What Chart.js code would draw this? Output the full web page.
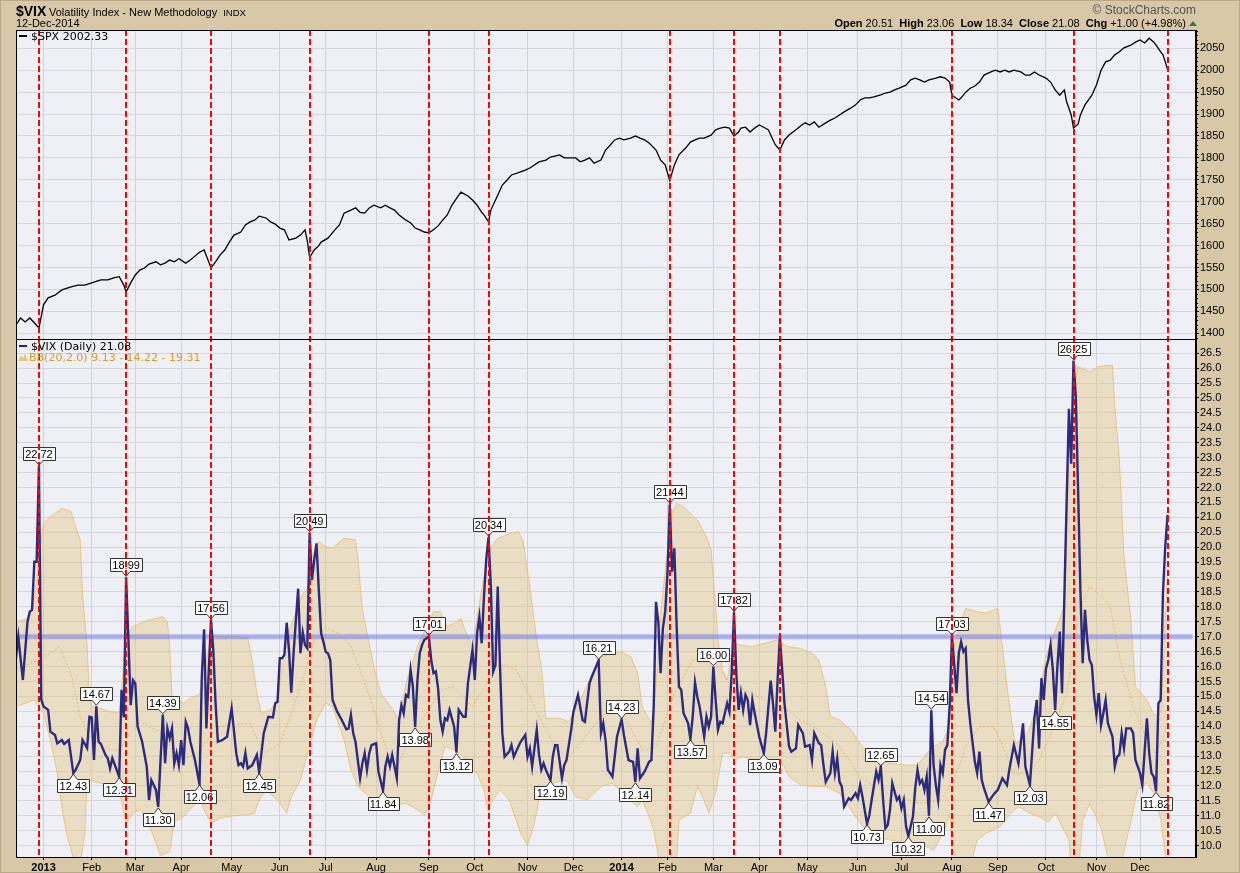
<!DOCTYPE html>
<html lang="en">
<head>
<meta charset="UTF-8">
<title>$VIX Volatility Index - New Methodology</title>
<style>
  html, body { margin: 0; padding: 0; background: #d8c8a8; }
  #wrap { width: 1240px; height: 873px; }
</style>
</head>
<body>
<div id="wrap"><canvas id="chart" width="1240" height="873"></canvas></div>
<script src="https://cdn.jsdelivr.net/npm/chart.js"></script>
<script>
// x = trading day counted from the first bar on the chart (early Dec 2012)
const monthDays   = [12, 33, 52, 72, 94, 115, 135, 157, 180, 200, 223, 243, 264, 284, 304, 324, 345, 367, 386, 408, 428, 449, 471, 490];
const monthLabels = ['2013','Feb','Mar','Apr','May','Jun','Jul','Aug','Sep','Oct','Nov','Dec',
                     '2014','Feb','Mar','Apr','May','Jun','Jul','Aug','Sep','Oct','Nov','Dec'];
const spxTicks = [1400,1450,1500,1550,1600,1650,1700,1750,1800,1850,1900,1950,2000,2050];
const vixTicks = [10,10.5,11,11.5,12,12.5,13,13.5,14,14.5,15,15.5,16,16.5,17,17.5,18,18.5,19,19.5,20,20.5,21,21.5,22,22.5,23,23.5,24,24.5,25,25.5,26,26.5];

// $SPX close [day, value]
const spxSeries = [[0,1419],[2,1435],[4,1426],[6,1435],[8,1424],[10,1412],[12,1465],[14,1481],[17,1487],[20,1499],[24,1506],[27,1510],[30,1510],[33,1515],[37,1522],[40,1522],[43,1527],[45,1529],[47,1510],[48,1494],[50,1515],[52,1533],[54,1544],[56,1549],[58,1558],[61,1563],[63,1556],[65,1560],[67,1567],[69,1563],[71,1570],[74,1560],[76,1567],[78,1576],[80,1585],[82,1590],[84,1563],[85,1549],[87,1563],[89,1579],[91,1590],[93,1608],[95,1624],[98,1631],[100,1647],[102,1654],[104,1658],[106,1667],[109,1663],[111,1654],[113,1649],[115,1640],[117,1636],[119,1613],[122,1617],[124,1624],[126,1636],[127,1610],[128,1573],[130,1590],[132,1600],[133,1608],[136,1617],[139,1636],[141,1647],[143,1674],[146,1681],[148,1686],[150,1676],[152,1674],[154,1686],[156,1692],[159,1686],[161,1692],[163,1686],[165,1681],[167,1670],[170,1658],[172,1652],[174,1640],[176,1636],[178,1631],[180,1629],[182,1636],[184,1645],[186,1658],[188,1670],[190,1692],[193,1715],[194,1722],[197,1713],[199,1704],[201,1692],[203,1676],[204,1670],[206,1654],[207,1681],[210,1715],[212,1738],[214,1749],[216,1761],[220,1768],[222,1772],[224,1777],[228,1791],[231,1795],[233,1802],[237,1807],[239,1800],[241,1800],[244,1800],[246,1791],[248,1795],[250,1800],[252,1788],[255,1795],[257,1818],[259,1829],[261,1841],[263,1845],[265,1841],[268,1845],[270,1850],[272,1845],[274,1841],[276,1834],[279,1818],[281,1795],[283,1784],[285,1748],[287,1784],[289,1807],[292,1823],[294,1836],[296,1841],[298,1845],[300,1845],[303,1852],[305,1864],[307,1868],[309,1870],[311,1868],[313,1850],[315,1859],[316,1868],[318,1870],[320,1859],[322,1868],[324,1875],[326,1870],[328,1864],[330,1841],[331,1830],[333,1818],[335,1841],[337,1852],[340,1864],[342,1873],[344,1880],[346,1875],[348,1882],[350,1870],[353,1880],[355,1886],[357,1891],[359,1898],[361,1905],[364,1914],[366,1921],[368,1932],[370,1937],[372,1937],[374,1939],[377,1944],[379,1948],[381,1950],[383,1955],[385,1959],[388,1966],[390,1978],[392,1982],[394,1978],[396,1973],[398,1978],[401,1982],[403,1985],[405,1982],[407,1973],[408,1943],[411,1932],[412,1937],[414,1950],[416,1959],[418,1964],[420,1973],[422,1989],[425,1996],[427,2000],[429,1996],[431,2000],[433,1996],[435,2000],[438,1996],[440,1989],[442,1989],[444,1996],[446,1989],[449,1982],[451,1973],[453,1955],[455,1943],[457,1955],[458,1928],[460,1898],[461,1868],[463,1877],[464,1898],[466,1921],[469,1943],[471,1966],[473,2000],[475,2019],[477,2023],[479,2035],[481,2042],[483,2051],[486,2057],[488,2064],[490,2069],[492,2062],[494,2073],[496,2064],[497,2057],[499,2042],[500,2035],[501,2019],[502,2002.33]];

// $VIX close [day, value]
const vixSeries = [[0,16.3],[1,17.0],[3,15.55],[5,17.5],[6,17.84],[7,17.9],[8,19.51],[9,19.51],[10,22.72],[11,14.9],[12,14.66],[14,14.55],[15,13.82],[17,13.71],[18,13.43],[20,13.54],[21,13.41],[23,13.54],[25,12.43],[26,12.54],[28,12.87],[29,13.54],[31,13.27],[32,14.32],[33,14.3],[34,12.87],[35,14.67],[36,13.48],[37,13.41],[39,13.04],[40,12.93],[41,12.59],[42,12.93],[45,12.31],[46,15.22],[47,14.3],[48,18.99],[49,16.89],[50,14.71],[51,15.55],[52,15.44],[53,14.0],[55,13.48],[57,12.65],[58,11.53],[59,12.2],[61,11.87],[62,11.30],[64,14.39],[65,12.76],[66,13.93],[67,13.6],[68,13.93],[69,12.76],[70,13.1],[71,12.7],[72,13.54],[73,12.7],[74,14.15],[75,13.93],[76,13.48],[78,12.87],[80,12.06],[81,15.66],[82,17.25],[83,13.93],[84,15.78],[85,17.56],[86,16.56],[87,14.77],[88,13.48],[90,13.54],[92,13.65],[94,14.6],[96,13.1],[97,12.7],[98,12.76],[99,12.65],[100,13.1],[101,12.59],[103,12.7],[105,13.04],[106,12.45],[108,13.77],[109,14.04],[110,14.32],[112,14.3],[113,14.77],[114,14.82],[115,16.28],[116,16.28],[117,16.39],[118,17.47],[119,16.56],[120,15.13],[121,16.45],[123,18.61],[124,16.45],[125,17.14],[126,16.72],[127,16.61],[128,20.49],[129,18.9],[130,19.57],[131,20.13],[132,18.57],[133,17.12],[134,16.83],[135,16.5],[136,16.45],[137,16.22],[138,14.88],[140,14.49],[142,14.21],[144,13.9],[145,13.93],[146,14.38],[147,13.77],[148,13.48],[150,12.26],[151,12.76],[152,13.1],[153,12.54],[154,13.1],[155,13.37],[157,13.43],[158,12.48],[160,11.84],[161,12.65],[162,12.98],[163,12.67],[164,13.04],[165,12.65],[166,12.26],[167,14.21],[168,14.71],[169,14.44],[170,15.05],[171,14.99],[172,15.89],[173,15.33],[174,13.98],[175,15.55],[176,16.45],[177,16.72],[178,16.9],[179,16.95],[180,17.01],[181,16.22],[182,15.78],[183,15.84],[184,15.27],[185,14.21],[186,13.82],[187,14.27],[188,14.21],[189,14.55],[191,13.99],[192,13.12],[193,14.55],[195,14.32],[196,14.32],[197,15.44],[199,16.56],[200,15.55],[201,17.12],[202,17.67],[203,16.78],[204,18.34],[205,19.6],[206,20.34],[207,18.68],[208,15.83],[209,16.05],[210,18.68],[211,16.0],[212,13.77],[213,12.98],[215,13.15],[216,13.37],[217,12.98],[219,13.32],[220,13.48],[222,13.71],[223,12.98],[224,13.26],[225,12.65],[227,13.88],[228,13.04],[229,12.54],[230,12.76],[231,12.54],[233,12.19],[234,12.98],[235,13.37],[236,13.37],[238,12.26],[239,12.7],[240,12.87],[242,13.88],[243,14.49],[244,14.77],[245,15.05],[247,14.21],[248,14.15],[250,15.44],[251,15.66],[254,16.21],[255,13.77],[256,14.1],[257,13.54],[258,12.54],[260,12.31],[262,13.65],[264,14.23],[265,13.71],[267,12.87],[269,12.81],[270,12.14],[271,13.26],[272,12.26],[274,12.48],[276,12.81],[277,12.87],[278,14.66],[279,18.17],[280,17.5],[281,15.78],[282,17.28],[283,17.84],[284,19.13],[285,21.44],[286,19.18],[287,19.96],[288,17.34],[289,15.33],[290,15.22],[291,14.44],[293,14.1],[294,13.57],[295,14.32],[296,15.47],[297,14.99],[298,14.66],[300,13.65],[301,14.32],[302,13.99],[303,14.32],[304,16.00],[305,14.88],[306,13.88],[307,14.15],[308,14.1],[310,14.77],[311,14.49],[312,15.78],[313,17.82],[314,15.78],[315,14.55],[316,15.11],[317,14.55],[318,15.05],[319,14.88],[320,14.04],[321,14.88],[322,14.44],[324,13.65],[326,13.09],[327,13.77],[328,14.66],[329,15.53],[330,14.77],[331,13.82],[332,15.55],[333,17.0],[334,15.89],[335,14.77],[337,13.32],[338,13.15],[340,13.26],[341,14.04],[343,13.77],[344,13.32],[346,13.37],[347,12.87],[348,13.77],[350,13.43],[351,13.37],[352,12.7],[353,12.14],[355,12.43],[356,13.15],[357,12.43],[358,12.93],[359,12.14],[360,11.98],[361,11.31],[363,11.59],[364,11.53],[366,11.76],[367,11.59],[368,12.03],[369,11.64],[371,10.73],[372,11.03],[373,11.53],[375,12.48],[376,12.2],[377,12.65],[378,11.53],[379,10.58],[380,10.69],[381,11.2],[382,12.09],[384,11.53],[385,11.64],[386,11.25],[387,11.53],[388,10.64],[389,10.32],[391,10.97],[392,11.92],[393,12.54],[394,12.09],[395,12.2],[396,11.87],[397,12.31],[398,11.00],[399,14.54],[400,12.7],[401,12.03],[402,11.53],[403,12.7],[404,12.43],[405,13.21],[406,13.37],[407,14.66],[408,17.03],[410,15.11],[411,16.45],[412,16.83],[413,16.5],[414,16.61],[415,14.88],[416,14.1],[418,12.81],[419,12.43],[420,13.15],[421,12.2],[422,11.92],[424,11.47],[426,11.7],[428,11.87],[430,12.26],[432,12.03],[433,12.54],[435,13.37],[437,12.76],[439,14.1],[440,12.65],[442,12.03],[444,14.32],[445,14.88],[446,13.26],[447,15.61],[448,14.88],[449,15.94],[450,16.22],[451,16.72],[452,15.89],[453,14.55],[454,16.05],[455,17.17],[456,15.11],[457,18.3],[458,21.5],[459,24.64],[460,22.8],[461,26.25],[462,25.04],[463,21.92],[464,18.57],[465,16.11],[466,17.9],[467,16.89],[468,16.22],[469,16.05],[470,14.99],[471,14.38],[472,15.11],[473,14.04],[474,14.44],[475,14.88],[476,14.1],[478,13.65],[479,12.65],[480,12.98],[481,13.04],[482,13.77],[483,13.26],[484,13.93],[486,13.93],[487,13.77],[488,12.87],[490,12.43],[491,12.03],[493,14.27],[494,13.1],[495,12.43],[496,12.31],[497,11.82],[498,14.77],[499,14.88],[500,18.46],[501,20.02],[502,21.08]];

// BB(20,2.0) bands [day, value]
const bbUpperSeries = [[0,17.5],[5,17.6],[8,18.2],[10,19.8],[12,20.81],[15,21.02],[20,21.3],[24,21.19],[26,20.69],[28,20.24],[29,18.46],[31,16.67],[32,14.99],[33,14.66],[37,14.6],[41,14.49],[45,14.44],[48,17.0],[51,17.34],[54,17.45],[58,17.56],[64,17.67],[66,17.5],[67,16.67],[68,14.99],[73,14.77],[77,14.99],[80,15.05],[82,15.78],[85,17.0],[95,17.0],[101,16.95],[103,16.22],[105,15.11],[107,14.44],[111,14.55],[114,14.88],[116,16.0],[119,17.23],[122,17.79],[125,18.46],[127,18.57],[128,19.5],[132,20.18],[135,20.02],[138,19.96],[141,20.18],[143,20.3],[148,20.24],[149,19.68],[151,17.9],[156,16.0],[159,15.11],[164,14.6],[167,14.21],[170,15.44],[175,16.67],[179,17.34],[182,17.84],[185,17.84],[188,17.34],[191,17.45],[194,17.62],[196,17.17],[199,16.67],[203,18.57],[206,19.9],[210,20.3],[212,20.35],[216,20.47],[219,20.52],[221,20.24],[224,18.68],[227,16.89],[229,16.0],[231,14.27],[237,14.27],[241,14.15],[246,14.88],[250,15.55],[255,16.33],[260,16.45],[264,16.5],[268,16.33],[271,15.78],[273,14.66],[277,14.1],[279,15.33],[281,17.79],[284,19.91],[286,21.14],[288,21.47],[291,21.36],[297,20.91],[301,20.35],[303,19.91],[305,18.01],[306,16.89],[308,15.89],[310,15.55],[313,16.78],[316,16.72],[321,16.67],[326,16.78],[332,16.89],[336,16.67],[342,16.61],[347,16.45],[350,16.22],[353,15.33],[355,14.32],[359,14.21],[364,13.88],[368,13.43],[371,13.15],[375,12.87],[381,12.76],[387,12.7],[393,12.7],[397,13.1],[400,13.32],[404,13.48],[407,13.99],[408,16.4],[412,17.56],[414,17.95],[419,17.84],[423,17.79],[428,17.95],[429,17.34],[432,15.33],[435,13.65],[436,13.43],[441,13.77],[445,14.6],[449,16.33],[452,17.0],[457,18.01],[459,23.03],[461,25.27],[463,26.05],[468,25.88],[472,26.05],[478,26.1],[479,24.71],[481,22.93],[483,19.68],[486,17.56],[488,15.33],[493,14.88],[496,14.38],[499,14.44],[500,15.9],[501,17.6],[502,19.31]];
const bbLowerSeries = [[0,14.66],[8,14.88],[12,14.44],[15,13.54],[18,12.43],[20,11.31],[22,10.42],[26,9.3],[28,9.4],[30,10.4],[31,12.2],[34,12.14],[41,12.03],[45,11.87],[48,10.75],[51,11.09],[54,11.2],[57,10.86],[60,10.3],[63,9.67],[67,9.8],[69,10.8],[73,10.97],[77,11.31],[80,11.59],[82,11.2],[85,10.75],[89,10.92],[95,11.0],[101,11.03],[104,11.09],[106,11.53],[109,11.87],[114,11.53],[117,11.2],[118,11.09],[120,11.64],[124,12.2],[128,13.32],[131,14.21],[135,14.77],[138,14.66],[140,14.21],[143,13.54],[146,12.54],[149,11.98],[154,11.64],[160,11.42],[164,11.31],[170,11.42],[175,11.2],[178,11.03],[180,11.25],[185,12.76],[187,13.32],[191,13.21],[195,12.98],[198,12.54],[201,12.43],[204,11.87],[206,11.09],[207,11.42],[211,11.87],[215,11.53],[218,10.86],[220,10.42],[223,10.0],[226,10.75],[228,11.53],[233,12.09],[240,12.2],[244,11.64],[249,11.53],[255,11.98],[260,12.09],[266,11.64],[271,11.31],[273,11.53],[276,10.97],[278,10.53],[281,9.2],[285,8.9],[288,9.5],[289,10.86],[294,11.09],[297,11.98],[300,11.53],[302,11.09],[305,11.76],[308,13.1],[311,13.1],[313,12.87],[317,12.98],[323,12.87],[330,12.87],[334,12.76],[337,12.31],[342,12.03],[347,11.98],[353,11.98],[359,11.76],[364,11.2],[368,10.75],[375,10.3],[381,10.19],[388,10.08],[394,10.08],[400,9.84],[405,10.53],[407,11.09],[408,10.0],[411,9.3],[415,9.0],[419,10.19],[423,10.42],[429,10.64],[433,11.03],[437,11.31],[442,11.09],[446,10.97],[450,10.8],[453,11.09],[456,10.64],[459,10.19],[461,8.5],[463,9.0],[465,10.86],[468,11.4],[470,11.1],[473,10.6],[476,9.6],[479,9.0],[482,9.5],[486,10.8],[489,11.9],[493,12.1],[496,11.76],[499,10.9],[500,10.3],[501,9.7],[502,9.13]];
const bbMiddleSeries = [[0,15.89],[12,16.3],[19,16.67],[24,15.78],[28,14.32],[32,13.65],[37,13.37],[41,13.21],[45,13.21],[50,13.77],[54,14.15],[58,13.99],[64,13.77],[69,13.1],[74,12.93],[80,13.15],[85,13.71],[89,13.99],[95,14.04],[102,14.1],[106,13.43],[109,13.1],[115,13.43],[119,14.21],[125,15.55],[130,16.89],[135,17.28],[141,17.12],[146,16.67],[150,15.89],[156,14.55],[162,13.1],[167,12.81],[173,13.77],[179,14.44],[185,15.22],[191,15.33],[195,14.99],[199,14.66],[205,15.44],[211,16.11],[218,15.89],[224,14.99],[230,13.99],[236,13.21],[241,12.98],[247,13.54],[255,14.32],[260,14.55],[266,14.21],[273,13.21],[279,13.32],[287,15.11],[295,16.22],[304,16.22],[310,15.55],[320,15.11],[330,14.77],[336,14.55],[342,14.21],[350,13.88],[359,13.32],[368,12.31],[377,11.87],[385,11.64],[394,11.42],[403,11.53],[409,12.2],[414,13.32],[420,13.99],[426,13.99],[429,13.54],[435,12.43],[441,12.43],[446,12.87],[452,13.88],[458,15.11],[464,18.01],[468,18.68],[472,18.46],[477,18.01],[481,16.33],[487,14.66],[493,13.54],[497,13.1],[501,13.77],[502,14.22]];

const vixLevel = 17.0;
const signalDays = [10, 48, 85, 128, 180, 206, 285, 313, 333, 408, 461, 502];
// labelled turning points: flag above the line for peaks, below it for troughs
const peakDays   = [10, 35, 48, 64, 85, 128, 180, 206, 254, 264, 285, 304, 313, 377, 399, 408, 461];
const troughDays = [25, 45, 62, 80, 106, 160, 174, 192, 233, 270, 294, 326, 371, 389, 398, 424, 442, 453, 497];

const X_MAX = 514.4;
const FONT = '"Liberation Sans", Arial, sans-serif';
const PLOT_BG = '#eff0f6';
const TAN = '#d8c8a8';

const toPts = s => s.map(p => ({ x: p[0], y: p[1] }));
const vixAt = d => { const p = vixSeries.find(q => q[0] === d); return p ? p[1] : null; };

function drawFlag(ctx, x, y, text, up) {
  ctx.font = '11px ' + FONT;
  const w = Math.round(ctx.measureText(text).width) + 4, h = 13;
  const bx = Math.round(x - w / 2) + 0.5;
  const by = up ? Math.round(y) - 6 - h + 0.5 : Math.round(y) + 6 + 0.5;
  ctx.beginPath();
  if (up) {
    ctx.moveTo(bx, by); ctx.lineTo(bx + w, by); ctx.lineTo(bx + w, by + h);
    ctx.lineTo(x + 4, by + h); ctx.lineTo(x, y - 1); ctx.lineTo(x - 4, by + h);
    ctx.lineTo(bx, by + h); ctx.closePath();
  } else {
    ctx.moveTo(bx, by); ctx.lineTo(x - 4, by); ctx.lineTo(x, y + 1); ctx.lineTo(x + 4, by);
    ctx.lineTo(bx + w, by); ctx.lineTo(bx + w, by + h); ctx.lineTo(bx, by + h); ctx.closePath();
  }
  ctx.fillStyle = '#fff'; ctx.fill();
  ctx.strokeStyle = '#333'; ctx.lineWidth = 1; ctx.stroke();
  ctx.fillStyle = '#000'; ctx.textAlign = 'center'; ctx.textBaseline = 'middle';
  ctx.fillText(text, x, by + h / 2 + 0.5);
}

const decor = {
  id: 'decor',
  beforeDraw(chart) {
    const { ctx, chartArea: a } = chart;
    ctx.save();
    ctx.fillStyle = TAN; ctx.fillRect(0, 0, chart.width, chart.height);
    ctx.strokeStyle = '#b9a888'; ctx.lineWidth = 1; ctx.strokeRect(0.5, 0.5, chart.width - 1, chart.height - 1);
    ctx.fillStyle = PLOT_BG; ctx.fillRect(a.left, a.top, a.right - a.left, a.bottom - a.top);
    ctx.restore();
  },
  afterDatasetsDraw(chart) {
    const { ctx, chartArea: a, scales } = chart;
    const xs = scales.x, yv = scales.yVix, ys = scales.ySpx;
    ctx.save();
    peakDays.forEach(d => { const v = vixAt(d); drawFlag(ctx, xs.getPixelForValue(d), yv.getPixelForValue(v), v.toFixed(2), true); });
    troughDays.forEach(d => { const v = vixAt(d); drawFlag(ctx, xs.getPixelForValue(d), yv.getPixelForValue(v), v.toFixed(2), false); });
    ctx.strokeStyle = '#ff0000'; ctx.lineWidth = 2; ctx.setLineDash([6, 3]);
    signalDays.forEach(d => {
      const x = Math.round(xs.getPixelForValue(d));
      ctx.beginPath(); ctx.moveTo(x, a.top); ctx.lineTo(x, a.bottom); ctx.stroke();
    });
    ctx.setLineDash([]);
    ctx.strokeStyle = '#000'; ctx.lineWidth = 1;
    const sep = Math.round(ys.bottom) + 0.5;
    ctx.beginPath(); ctx.moveTo(a.left, sep); ctx.lineTo(a.right, sep); ctx.stroke();
    ctx.strokeRect(a.left + 0.5, a.top + 0.5, a.right - a.left - 1, a.bottom - a.top);
    ctx.restore();
  },
  afterDraw(chart) {
    const { ctx, chartArea: a, scales } = chart;
    const ys = scales.ySpx;
    ctx.save();
    // minor ticks on the price axis
    ctx.strokeStyle = '#000'; ctx.lineWidth = 1;
    for (let v = 1390; v <= 2090; v += 10) {
      if (v % 50 === 0) continue;
      const y = Math.round(ys.getPixelForValue(v)) + 0.5;
      ctx.beginPath(); ctx.moveTo(a.right, y); ctx.lineTo(a.right + 2, y); ctx.stroke();
    }
    // header
    ctx.textAlign = 'left'; ctx.textBaseline = 'alphabetic'; ctx.fillStyle = '#000';
    ctx.font = 'bold 14px ' + FONT; ctx.fillText('$VIX', 16, 16);
    ctx.font = '11px ' + FONT;
    const title = 'Volatility Index - New Methodology';
    ctx.fillText(title, 49, 16);
    const tw = ctx.measureText(title).width;
    ctx.font = '9.5px ' + FONT; ctx.fillText('INDX', 49 + tw + 6, 16);
    ctx.font = '11px ' + FONT; ctx.fillText('12-Dec-2014', 16, 27);
    ctx.textAlign = 'right'; ctx.fillStyle = '#555';
    ctx.font = '12px ' + FONT; ctx.fillText('\u00A9 StockCharts.com', 1196, 14);
    const parts = [['Open ', true], ['20.51  ', false], ['High ', true], ['23.06  ', false], ['Low ', true], ['18.34  ', false],
                   ['Close ', true], ['21.08  ', false], ['Chg ', true], ['+1.00 (+4.98%)', false]];
    let total = 0;
    parts.forEach(p => { ctx.font = (p[1] ? 'bold ' : '') + '11px ' + FONT; total += ctx.measureText(p[0]).width; });
    let x = 1186 - total;
    ctx.textAlign = 'left'; ctx.fillStyle = '#000';
    parts.forEach(p => { ctx.font = (p[1] ? 'bold ' : '') + '11px ' + FONT; ctx.fillText(p[0], x, 27); x += ctx.measureText(p[0]).width; });
    ctx.fillStyle = '#2e7d32';
    ctx.beginPath(); ctx.moveTo(1189, 26); ctx.lineTo(1197, 26); ctx.lineTo(1193, 21); ctx.closePath(); ctx.fill();
    // panel legends
    const legFont = '11px "DejaVu Sans", Verdana, sans-serif';
    ctx.fillStyle = '#000'; ctx.fillRect(19, 35, 8, 2);
    ctx.font = legFont; ctx.fillText('$SPX 2002.33', 31, 40);
    const lt = Math.round(scales.yVix.top);
    ctx.fillStyle = '#1f1f8a'; ctx.fillRect(19, lt + 6, 8, 2);
    ctx.fillStyle = '#000'; ctx.fillText('$VIX (Daily) 21.08', 31, lt + 11);
    ctx.fillStyle = '#e3c68a';
    ctx.beginPath(); ctx.moveTo(18, lt + 22); ctx.lineTo(21, lt + 16); ctx.lineTo(23, lt + 19); ctx.lineTo(25, lt + 15); ctx.lineTo(28, lt + 22); ctx.closePath(); ctx.fill();
    ctx.fillStyle = '#d69a2a'; ctx.fillText('BB(20,2.0) 9.13 - 14.22 - 19.31', 29, lt + 22);
    ctx.restore();
  }
};

const yAxisBase = {
  type: 'linear', position: 'right', stack: 'panels',
  border: { color: '#000', width: 1 },
  grid: { color: '#d6d6dc', tickColor: '#000', tickLength: 3 },
  afterFit: s => { s.width = 44; }
};

new Chart(document.getElementById('chart').getContext('2d'), {
  type: 'line',
  data: {
    datasets: [
      { label: 'BB upper', data: toPts(bbUpperSeries), yAxisID: 'yVix', fill: 1, order: 6,
        borderColor: 'rgba(236,186,100,0.75)', borderWidth: 1, backgroundColor: 'rgba(225,195,120,0.4)', pointRadius: 0 },
      { label: 'BB lower', data: toPts(bbLowerSeries), yAxisID: 'yVix', fill: false, order: 5,
        borderColor: 'rgba(236,186,100,0.75)', borderWidth: 1, pointRadius: 0 },
      { label: 'BB middle', data: toPts(bbMiddleSeries), yAxisID: 'yVix', fill: false, order: 4,
        borderColor: 'rgba(232,170,70,0.7)', borderWidth: 1, borderDash: [2, 2], pointRadius: 0 },
      { label: 'Level', data: [{ x: 0, y: vixLevel }, { x: X_MAX - 1.5, y: vixLevel }], yAxisID: 'yVix', fill: false, order: 3,
        borderColor: 'rgba(105,120,240,0.5)', borderWidth: 5, pointRadius: 0 },
      { label: '$VIX', data: toPts(vixSeries), yAxisID: 'yVix', fill: false, order: 1,
        borderColor: '#2d2b7d', borderWidth: 2.4, pointRadius: 0 },
      { label: '$SPX', data: toPts(spxSeries), yAxisID: 'ySpx', fill: false, order: 1,
        borderColor: '#000', borderWidth: 1.3, pointRadius: 0 }
    ]
  },
  options: {
    responsive: false,
    animation: false,
    events: [],
    layout: { padding: { left: 16, top: 30, right: 0, bottom: 0 } },
    plugins: { legend: { display: false }, tooltip: { enabled: false } },
    scales: {
      x: {
        type: 'linear', min: 0, max: X_MAX,
        afterBuildTicks: s => { s.ticks = monthDays.map(v => ({ value: v })); },
        afterFit: s => { s.height = 16; },
        border: { color: '#000' },
        grid: { color: '#d2d2d8', tickColor: '#000', tickLength: 3 },
        ticks: {
          autoSkip: false, maxRotation: 0, padding: 1, color: '#000',
          callback: (v, i) => monthLabels[i],
          font: c => ({ family: FONT, size: 11, weight: (c.tick && /^\d{4}$/.test(c.tick.label)) ? 'bold' : 'normal' })
        }
      },
      ySpx: Object.assign({}, yAxisBase, {
        stackWeight: 309, min: 1387, max: 2091.7,
        afterBuildTicks: s => { s.ticks = spxTicks.map(v => ({ value: v })); },
        ticks: { autoSkip: false, padding: 1, color: '#000', font: { family: FONT, size: 11 }, callback: v => String(v) }
      }),
      yVix: Object.assign({}, yAxisBase, {
        stackWeight: 518, min: 9.621, max: 26.975,
        afterBuildTicks: s => { s.ticks = vixTicks.map(v => ({ value: v })); },
        ticks: { autoSkip: false, padding: 1, color: '#000', font: { family: FONT, size: 11 }, callback: v => v.toFixed(1) }
      })
    }
  },
  plugins: [decor]
});
</script>
</body>
</html>
